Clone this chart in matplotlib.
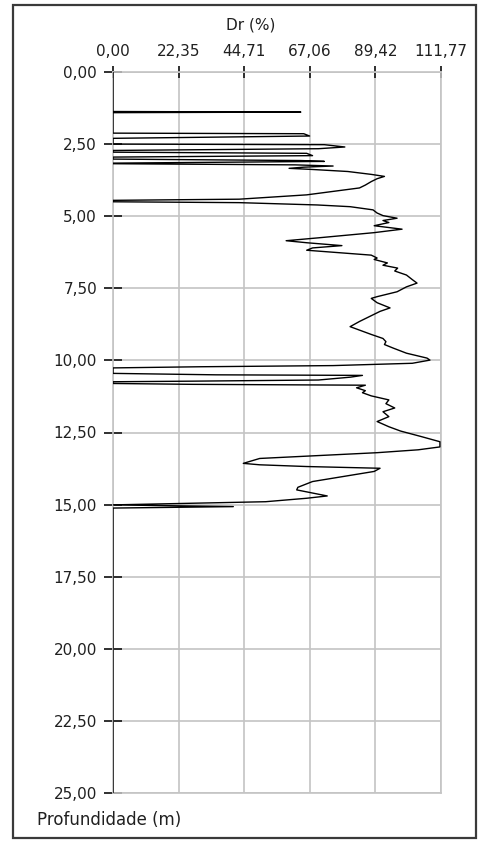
import numpy as np
import matplotlib.pyplot as plt
from matplotlib.patches import Rectangle

# depth (m) and relative density Dr (%)
depth = [0.00, 1.37, 1.39, 1.41, 2.12, 2.14, 2.22, 2.30, 2.50, 2.52, 2.60, 2.66,
         2.72, 2.78, 2.82, 2.90, 2.95, 3.02, 3.07, 3.10, 3.16, 3.18, 3.22, 3.26,
         3.30, 3.34, 3.38, 3.45, 3.55, 3.62, 3.70, 3.80, 3.92, 4.02, 4.26, 4.41,
         4.45, 4.50, 4.53, 4.61, 4.67, 4.78, 4.89, 4.98, 5.07, 5.15, 5.22, 5.33,
         5.45, 5.57, 5.75, 5.85, 5.92, 6.02, 6.10, 6.18, 6.25, 6.35, 6.45, 6.50,
         6.62, 6.70, 6.80, 6.90, 7.04, 7.20, 7.32, 7.45, 7.62, 7.79, 7.85, 8.00,
         8.18, 8.30, 8.50, 8.65, 8.83, 8.95, 9.10, 9.24, 9.35, 9.45, 9.57, 9.75,
         9.92, 9.99, 10.10, 10.18, 10.22, 10.26, 10.45, 10.50, 10.52, 10.58,
         10.68, 10.72, 10.74, 10.80, 10.83, 10.86, 10.95, 11.05, 11.12, 11.23,
         11.37, 11.50, 11.65, 11.78, 11.95, 12.12, 12.30, 12.45, 12.64, 12.82,
         13.00, 13.10, 13.20, 13.30, 13.40, 13.57, 13.62, 13.68, 13.74, 13.85,
         14.20, 14.40, 14.49, 14.60, 14.70, 14.78, 14.90, 14.97, 15.01, 15.07,
         15.12, 25.00]
dr = [0.0, 0.0, 64.0, 0.0, 0.0, 65.0, 67.0, 0.0, 0.0, 72.0, 79.0, 70.0,
      0.0, 0.0, 66.0, 68.0, 0.0, 0.0, 64.0, 72.0, 0.0, 0.0, 62.0, 75.0,
      65.0, 60.0, 68.0, 80.0, 88.0, 92.5, 90.0, 88.0, 86.0, 84.0, 66.0, 43.0,
      0.0, 0.0, 43.0, 69.5, 80.8, 88.6, 90.0, 92.0, 96.8, 92.0, 94.0, 89.0,
      98.5, 89.0, 70.0, 59.0, 66.0, 78.0, 68.0, 66.0, 75.0, 88.0, 90.0, 89.0,
      93.5, 92.0, 97.0, 96.0, 100.0, 102.0, 103.6, 100.0, 96.8, 90.0, 88.0, 90.0,
      94.4, 91.0, 87.0, 84.0, 80.8, 84.0, 88.0, 92.0, 93.0, 92.5, 95.4, 100.0,
      107.0, 108.0, 102.0, 75.0, 30.0, 0.0, 0.0, 35.0, 85.0, 81.0,
      70.0, 27.0, 0.0, 0.0, 27.0, 86.0, 83.0, 86.0, 85.0, 88.0,
      94.0, 93.0, 96.0, 92.0, 94.0, 90.0, 94.0, 98.0, 105.0, 111.4,
      111.4, 104.0, 90.0, 70.0, 50.0, 44.4, 50.0, 66.0, 91.0, 89.0,
      68.0, 63.0, 62.6, 68.0, 73.0, 66.0, 52.0, 18.0, 0.0, 41.0,
      0.0, 0.0]

x_ticks = [0.0, 22.35, 44.71, 67.06, 89.42, 111.77]
y_ticks = [0.0, 2.5, 5.0, 7.5, 10.0, 12.5, 15.0, 17.5, 20.0, 22.5, 25.0]

W, H = 479, 843
fig = plt.figure(figsize=(W / 100, H / 100), dpi=100)
ax = fig.add_axes([113 / W, 1 - 793 / H, 328 / W, 721 / H])

grid_col = '#c4c4c4'
ax.plot(dr, depth, color='black', lw=1.0, zorder=3)

ax.set_xlim(0, 111.77)
ax.set_ylim(25, 0)
ax.set_xticks(x_ticks)
ax.set_yticks(y_ticks)
ax.set_xticklabels([f"{v:.2f}".replace('.', ',') for v in x_ticks])
ax.set_yticklabels([f"{v:.2f}".replace('.', ',') for v in y_ticks])
ax.xaxis.tick_top()
ax.tick_params(axis='x', direction='inout', length=9, width=1.3, color='#202020',
               pad=5, labelsize=11, labelcolor='#202020')
ax.tick_params(axis='y', direction='inout', length=13, width=1.3, color='#202020',
               pad=5, labelsize=11, labelcolor='#202020')
ax.grid(True, color=grid_col, lw=1.2)
ax.set_axisbelow(True)
for s in ax.spines.values():
    s.set_color(grid_col)
    s.set_linewidth(1.2)

fig.text(251 / W, 1 - 25 / H, 'Dr (%)', ha='center', va='center', fontsize=11,
         color='#202020')
fig.text(37 / W, 1 - 820 / H, 'Profundidade (m)', ha='left', va='center',
         fontsize=12, color='#202020')

# outer frame
fig.patches.append(Rectangle((13 / W, 1 - 838 / H), 463 / W, 833 / H,
                             transform=fig.transFigure, fill=False,
                             edgecolor='#3a3a3a', lw=1.6))

plt.savefig('out.png', dpi=100)
plt.close()
